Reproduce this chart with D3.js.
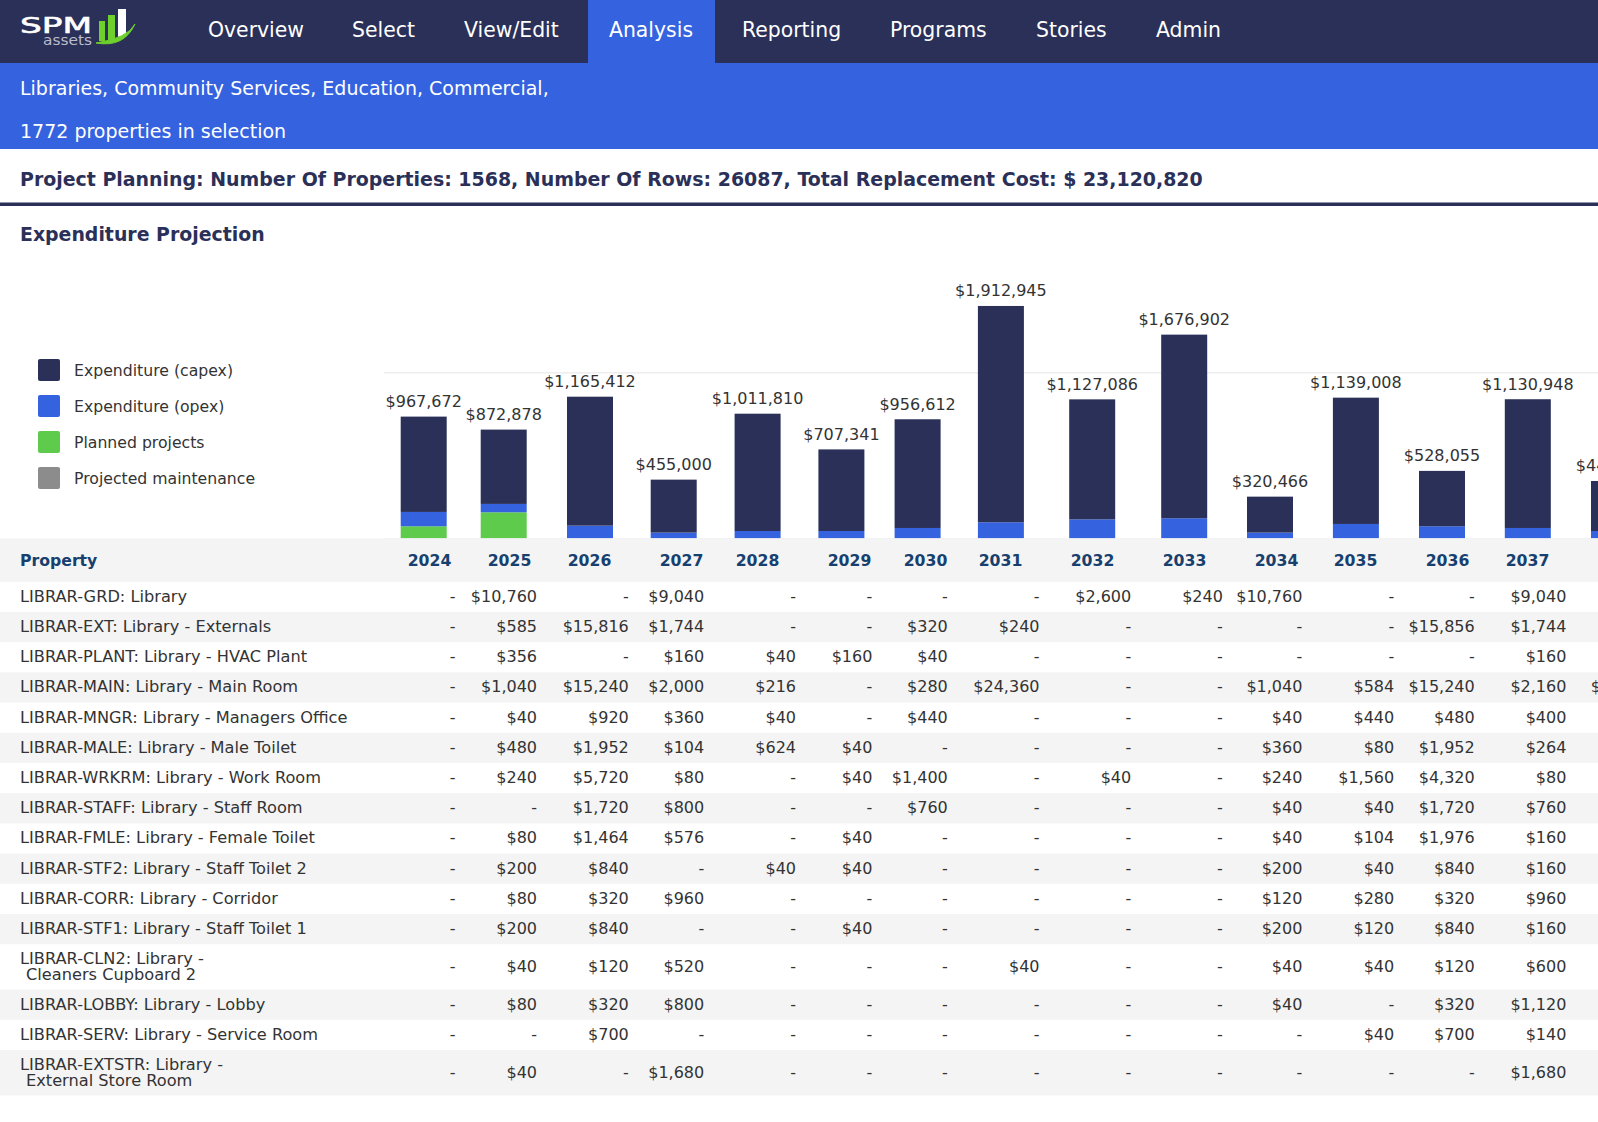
<!DOCTYPE html>
<html>
<head>
<meta charset="utf-8">
<script src="https://cdn.jsdelivr.net/npm/d3@7"></script>
<style>
html, body { margin: 0; background: #fff; overflow: hidden; }
text { font-family: "DejaVu Sans", sans-serif; }
</style>
</head>
<body>
<div id="chart"></div>
<script>
const years = ['2024','2025','2026','2027','2028','2029','2030','2031','2032','2033','2034','2035','2036','2037','2038'];

// stack heights, in dollars
const capex = [785000,612000,1062000,436000,966000,672000,895000,1781000,988000,1512000,296000,1040000,456000,1060000,412000];
const opex = [118000,69000,104000,47000,60000,60000,85000,132000,156000,165000,47000,118000,99000,85000,60000];
const planned = [99000,214000,0,0,0,0,0,0,0,0,0,0,0,0,0];
const totals = [967672,872878,1165412,455000,1011810,707341,956612,1912945,1127086,1676902,320466,1139008,528055,1130948,445000];

const seriesNames = ['Expenditure (capex)','Expenditure (opex)','Planned projects','Projected maintenance'];
const gridValues = [0, 1367000];

const navItems = ['Overview','Select','View/Edit','Analysis','Reporting','Programs','Stories','Admin'];
const bannerLines = ['Libraries, Community Services, Education, Commercial,','1772 properties in selection'];
const summaryLine = 'Project Planning: Number Of Properties: 1568, Number Of Rows: 26087, Total Replacement Cost: $ 23,120,820';

const propertyNames = [
    'LIBRAR-GRD: Library',
    'LIBRAR-EXT: Library - Externals',
    'LIBRAR-PLANT: Library - HVAC Plant',
    'LIBRAR-MAIN: Library - Main Room',
    'LIBRAR-MNGR: Library - Managers Office',
    'LIBRAR-MALE: Library - Male Toilet',
    'LIBRAR-WRKRM: Library - Work Room',
    'LIBRAR-STAFF: Library - Staff Room',
    'LIBRAR-FMLE: Library - Female Toilet',
    'LIBRAR-STF2: Library - Staff Toilet 2',
    'LIBRAR-CORR: Library - Corridor',
    'LIBRAR-STF1: Library - Staff Toilet 1',
    'LIBRAR-CLN2: Library -\n Cleaners Cupboard 2',
    'LIBRAR-LOBBY: Library - Lobby',
    'LIBRAR-SERV: Library - Service Room',
    'LIBRAR-EXTSTR: Library -\n External Store Room'
];

// one list per table row, 0 prints as a dash, null is past the page edge
const costs = [
    [0,10760,0,9040,0,0,0,0,2600,240,10760,0,0,9040,null],
    [0,585,15816,1744,0,0,320,240,0,0,0,0,15856,1744,null],
    [0,356,0,160,40,160,40,0,0,0,0,0,0,160,null],
    [0,1040,15240,2000,216,0,280,24360,0,0,1040,584,15240,2160,24360],
    [0,40,920,360,40,0,440,0,0,0,40,440,480,400,null],
    [0,480,1952,104,624,40,0,0,0,0,360,80,1952,264,null],
    [0,240,5720,80,0,40,1400,0,40,0,240,1560,4320,80,null],
    [0,0,1720,800,0,0,760,0,0,0,40,40,1720,760,null],
    [0,80,1464,576,0,40,0,0,0,0,40,104,1976,160,null],
    [0,200,840,0,40,40,0,0,0,0,200,40,840,160,null],
    [0,80,320,960,0,0,0,0,0,0,120,280,320,960,null],
    [0,200,840,0,0,40,0,0,0,0,200,120,840,160,null],
    [0,40,120,520,0,0,0,40,0,0,40,40,120,600,null],
    [0,80,320,800,0,0,0,0,0,0,40,0,320,1120,null],
    [0,0,700,0,0,0,0,0,0,0,0,40,700,140,null],
    [0,40,0,1680,0,0,0,0,0,0,0,0,0,1680,null]
];

// page layout: the original is an auto-sized html table, so its columns are uneven
const barCentres = [423.7,503.7,590,673.7,757.6,841.4,917.6,1000.9,1092.2,1184.2,1270,1355.9,1442,1527.8,1614];
const headerCentres = [429,509,589,681,757,849,925,1000,1092,1184,1276,1355,1447,1527,1619];
const cellRights = [455.5,537,628.8,704.2,796,872.4,947.8,1039.5,1131.2,1222.9,1302.4,1394.2,1474.7,1566.4,1657];

const navStarts = [208,352,464,609,742,890,1036,1156];

const navy = '#2a3058';
const blue = '#3563e0';
const green = '#5fcb4c';
const grey = '#8c8c8c';
const band = '#f4f4f4';
const textColor = '#333';
const headColor = '#17406f';

const svgWidth = 1598;
const svgHeight = 1122;
const baseY = 538.3;

const svg = d3.select('#chart')
    .append('svg')
    .attr('width', svgWidth)
    .attr('height', svgHeight)
    .style('display', 'block');

// top bar
svg.append('rect').attr('width', svgWidth).attr('height', 63).attr('fill', navy);
svg.append('rect').attr('y', 63).attr('width', svgWidth).attr('height', 86).attr('fill', blue);
svg.append('rect').attr('x', 588).attr('width', 127).attr('height', 63).attr('fill', blue);

const logo = svg.append('g');
logo.append('text').text('SPM').attr('x', 20).attr('y', 33)
    .attr('font-size', 22).attr('textLength', 72).attr('lengthAdjust', 'spacingAndGlyphs')
    .attr('fill', '#fff').attr('stroke', '#fff').attr('stroke-width', 0.6);
logo.append('text').text('assets').attr('x', 43).attr('y', 45)
    .attr('font-size', 14).attr('textLength', 49).attr('lengthAdjust', 'spacingAndGlyphs')
    .attr('fill', '#b9bccb');
logo.append('rect').attr('x', 99).attr('y', 21).attr('width', 6).attr('height', 20).attr('fill', '#6fd02c');
logo.append('rect').attr('x', 108).attr('y', 15).attr('width', 7).attr('height', 25).attr('fill', '#6fd02c');
logo.append('rect').attr('x', 118).attr('y', 9).attr('width', 8).attr('height', 28).attr('fill', '#fff');
logo.append('path').attr('d', 'M96,43 Q124,48 135,24 Q128,38 96,43').attr('fill', '#6fd02c')
    .attr('stroke', '#6fd02c').attr('stroke-width', 1);

svg.append('g').selectAll('text')
    .data(navItems)
    .join('text')
    .text(d => d)
    .attr('x', (d, i) => navStarts[i])
    .attr('y', 37)
    .attr('font-size', 20.4)
    .attr('fill', '#fff');

svg.append('g').selectAll('text')
    .data(bannerLines)
    .join('text')
    .text(d => d)
    .attr('x', 20)
    .attr('y', (d, i) => 95 + i * 43)
    .attr('font-size', 19)
    .attr('fill', '#fff');

svg.append('text').text(summaryLine)
    .attr('x', 20).attr('y', 186)
    .attr('font-size', 18.95).attr('font-weight', 'bold').attr('fill', navy);
svg.append('rect').attr('y', 202.5).attr('width', svgWidth).attr('height', 3.5).attr('fill', navy);
svg.append('text').text('Expenditure Projection')
    .attr('x', 20).attr('y', 241)
    .attr('font-size', 18.9).attr('font-weight', 'bold').attr('fill', navy);

// scales
const xBar = d3.scaleOrdinal(years, barCentres);
const xHeader = d3.scaleOrdinal(years, headerCentres);
const xCell = d3.scaleOrdinal(years, cellRights);
const yScale = d3.scaleLinear().domain([0, 2000000]).range([baseY, baseY - 242.9]);
const colorScale = d3.scaleOrdinal(seriesNames, [navy, blue, green, grey]);
const barWidth = 46;

// gridlines
const grid = svg.append('g')
    .attr('transform', 'translate(384, 0)')
    .call(d3.axisRight(yScale).tickValues(gridValues).tickSize(svgWidth - 384).tickFormat(''));
grid.select('.domain').remove();
grid.selectAll('line').attr('stroke', '#eeeeee').attr('stroke-width', 1.5);

// stacked bars, bottom to top is planned, opex, capex
const barRows = years.map((y, i) => ({ year: y, capex: capex[i], opex: opex[i], planned: planned[i] }));
const stackKeys = ['planned', 'opex', 'capex'];
const keyColor = { capex: seriesNames[0], opex: seriesNames[1], planned: seriesNames[2] };
const stacked = d3.stack().keys(stackKeys)(barRows);

svg.append('g').selectAll('g')
    .data(stacked)
    .join('g')
    .attr('fill', d => colorScale(keyColor[d.key]))
    .selectAll('rect')
    .data(d => d)
    .join('rect')
    .attr('x', d => xBar(d.data.year) - barWidth / 2)
    .attr('y', d => yScale(d[1]))
    .attr('width', barWidth)
    .attr('height', d => yScale(d[0]) - yScale(d[1]));

// total above each bar
svg.append('g').selectAll('text')
    .data(barRows)
    .join('text')
    .text((d, i) => '$' + d3.format(',')(totals[i]))
    .attr('x', d => xBar(d.year))
    .attr('y', d => yScale(d.capex + d.opex + d.planned) - 9.5)
    .attr('text-anchor', 'middle')
    .attr('font-size', 16)
    .attr('fill', textColor);

// legend
const legend = svg.append('g').selectAll('g')
    .data(seriesNames)
    .join('g')
    .attr('transform', (d, i) => `translate(38, ${359 + i * 36})`);
legend.append('rect')
    .attr('width', 22).attr('height', 22).attr('rx', 2)
    .attr('fill', d => colorScale(d));
legend.append('text')
    .text(d => d)
    .attr('x', 36).attr('y', 17)
    .attr('font-size', 15.7)
    .attr('fill', textColor);

// table header
svg.append('rect').attr('y', baseY).attr('width', svgWidth).attr('height', 43.5).attr('fill', band);
svg.append('text').text('Property')
    .attr('x', 20).attr('y', 566)
    .attr('font-size', 15.7).attr('font-weight', 'bold').attr('fill', headColor);

const headerAxis = svg.append('g')
    .attr('transform', 'translate(0, 566)')
    .call(d3.axisBottom(xHeader).tickSize(0).tickPadding(0));
headerAxis.select('.domain').remove();
headerAxis.selectAll('text')
    .attr('dy', 0)
    .attr('y', 0)
    .attr('font-size', 15.7)
    .attr('font-weight', 'bold')
    .attr('fill', headColor)
    .style('font-family', '"DejaVu Sans", sans-serif');

// table rows
const formatCost = v => v ? '$' + d3.format(',')(v) : '-';
let rowTop = 581.8;
const tableRows = propertyNames.map((name, i) => {
    const lines = name.split('\n');
    const height = lines.length > 1 ? 45.4 : 30.2;
    const row = { lines, values: costs[i], top: rowTop, height, banded: i % 2 === 1 };
    rowTop += height;
    return row;
});

const rowGroups = svg.append('g').selectAll('g')
    .data(tableRows)
    .join('g')
    .attr('transform', d => `translate(0, ${d.top})`);

rowGroups.filter(d => d.banded).append('rect')
    .attr('width', svgWidth)
    .attr('height', d => d.height)
    .attr('fill', band);

rowGroups.selectAll('.name')
    .data(d => d.lines.map((line, i) => ({ line, i, n: d.lines.length, height: d.height })))
    .join('text')
    .attr('class', 'name')
    .text(d => d.line.trim())
    .attr('x', d => d.line.startsWith(' ') ? 26 : 20)
    .attr('y', d => d.height / 2 + 5 + (d.n > 1 ? (d.i - 0.5) * 16 : 0))
    .attr('font-size', 16.2)
    .attr('fill', textColor);

rowGroups.selectAll('.cost')
    .data(d => d.values.map((v, i) => ({ v, year: years[i], height: d.height })).filter(c => c.v !== null))
    .join('text')
    .attr('class', 'cost')
    .text(d => formatCost(d.v))
    .attr('x', d => xCell(d.year))
    .attr('y', d => d.height / 2 + 5)
    .attr('text-anchor', 'end')
    .attr('font-size', 16)
    .attr('fill', textColor);
</script>
</body>
</html>
